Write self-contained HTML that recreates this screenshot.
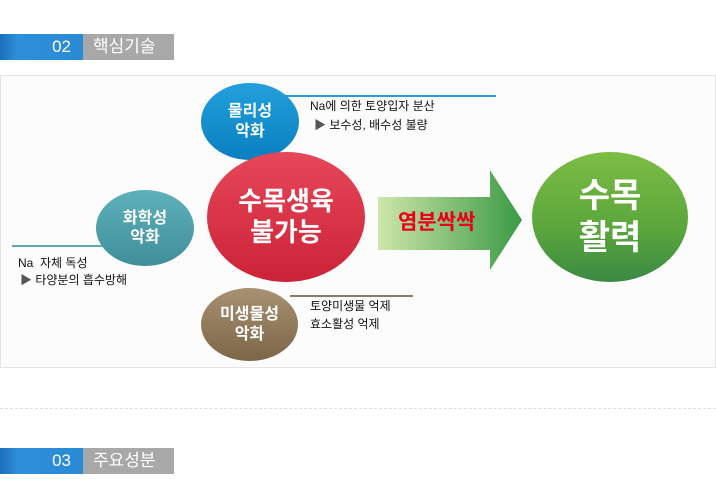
<!DOCTYPE html>
<html><head><meta charset="utf-8"><style>
body{margin:0;width:716px;height:490px;background:#fff;position:relative;overflow:hidden;font-family:"Liberation Sans","Noto Sans CJK KR",sans-serif}
.a{position:absolute}
.hb{position:absolute;left:0;width:83px;height:26px;background:linear-gradient(90deg,#1a6fb8,#2d8fd8 20%,#2a8ad6);color:#fff;font-size:17px;text-align:right;box-sizing:border-box;padding-right:12px;line-height:26px}
.hg{position:absolute;left:83px;width:91px;height:26px;background:#a8a8a8;color:#fff;font-size:17px;line-height:26px;padding-left:10px;box-sizing:border-box}
.c{position:absolute;border-radius:50%;color:#fff;font-weight:bold;text-align:center;display:flex;align-items:center;justify-content:center;line-height:1.2}
.t{position:absolute;font-size:12px;color:#111;white-space:nowrap}
</style></head><body>
<div class="hb" style="top:34px">02</div><div class="hg" style="top:34px">핵심기술</div>
<div class="a" style="left:0;top:75px;width:714px;height:291px;border:1px solid #e4e4e4;background:#fcfcfc"></div>
<div class="a" style="left:285px;top:95px;width:211px;height:2px;background:#2a9ad8"></div>
<div class="a" style="left:12px;top:245px;width:100px;height:2px;background:#5aa8b4"></div>
<div class="a" style="left:290px;top:295px;width:123px;height:2px;background:#8a7a66"></div>
<div class="c" style="left:201px;top:83px;width:98px;height:77px;background:linear-gradient(#22a0dc,#0a7fbf);font-size:16px">물리성<br>악화</div>
<div class="c" style="left:96px;top:190px;width:98px;height:76px;background:linear-gradient(#5eb0ba,#3f8f9b);font-size:16px">화학성<br>악화</div>
<div class="c" style="left:201px;top:288px;width:97px;height:73px;background:linear-gradient(#a89172,#7d6648);font-size:16px">미생물성<br>악화</div>
<div class="c" style="left:207px;top:152px;width:158px;height:130px;background:linear-gradient(#e6475a,#cc2237);font-size:26px">수목생육<br>불가능</div>
<div class="c" style="left:532px;top:152px;width:156px;height:130px;background:linear-gradient(#7cbd44,#5aa53c 60%,#3a8a44);font-size:34px;line-height:1.25">수목<br>활력</div>
<svg class="a" style="left:378px;top:170px" width="146" height="101"><defs><linearGradient id="g" x1="0" x2="1"><stop offset="0" stop-color="#cfe6a8"/><stop offset="1" stop-color="#3a9a44"/></linearGradient></defs><polygon points="0,27 112,27 112,0 144,50 112,100 112,80 0,80" fill="url(#g)"/></svg>
<div class="a" style="left:398px;top:206px;font-size:21px;font-weight:bold;color:#e8001e">염분싹싹</div>
<div class="t" style="left:310px;top:97px">Na에 의한 토양입자 분산</div>
<div class="t" style="left:314px;top:116px"><span style="color:#555">▶</span> 보수성, 배수성 불량</div>
<div class="t" style="left:18px;top:254px">Na &nbsp;자체 독성</div>
<div class="t" style="left:20px;top:271px"><span style="color:#555">▶</span> 타양분의 흡수방해</div>
<div class="t" style="left:310px;top:297px">토양미생물 억제</div>
<div class="t" style="left:310px;top:315px">효소활성 억제</div>
<div class="a" style="left:0;top:408px;width:716px;border-top:1px dashed #ddd"></div>
<div class="hb" style="top:448px">03</div><div class="hg" style="top:448px">주요성분</div>
</body></html>
